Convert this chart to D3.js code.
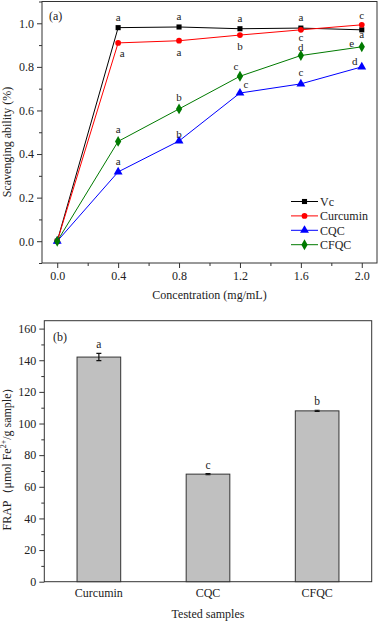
<!DOCTYPE html>
<html><head><meta charset="utf-8">
<script src="https://cdn.jsdelivr.net/npm/d3@7"></script>
<style>
body{margin:0;background:#fff;}
svg{display:block;font-family:"Liberation Serif","Times New Roman",serif;}
</style></head>
<body><svg id="c" width="379" height="621"></svg>
<script>
// ---------- Data: panel (a) ----------
const concentrations = [0, 0.4, 0.8, 1.2, 1.6, 2.0];
const seriesNames = ["Vc", "Curcumin", "CQC", "CFQC"];
const vcValues = [0, 0.980, 0.983, 0.975, 0.978, 0.970];
const curcuminValues = [0, 0.910, 0.920, 0.946, 0.970, 0.993];
const cqcValues = [0, 0.318, 0.460, 0.680, 0.722, 0.800];
const cfqcValues = [0, 0.458, 0.607, 0.757, 0.852, 0.892];
const vcLetters = ["", "a", "a", "a", "a", "a"];
const curcuminLetters = ["", "a", "a", "b", "c", "c"];
const cqcLetters = ["", "a", "b", "c", "c", "d"];
const cfqcLetters = ["", "a", "b", "c", "d", "e"];
const xTicksA = [0, 0.4, 0.8, 1.2, 1.6, 2.0];
const yTicksA = [0, 0.2, 0.4, 0.6, 0.8, 1.0];

// ---------- Data: panel (b) ----------
const samples = ["Curcumin", "CQC", "CFQC"];
const frapValues = [142, 68, 108];
const frapErrors = [2.3, 0.4, 0.4];
const frapLetters = ["a", "c", "b"];
const yTicksB = [0, 20, 40, 60, 80, 100, 120, 140, 160];

// ---------- Layout / style (not data) ----------
const colors = ["#000000", "#ff0000", "#0000ff", "#007a00"];
const symbols = [d3.symbolSquare, d3.symbolCircle, d3.symbolTriangle, d3.symbolDiamond];
const symSizes = [26, 26, 34, 34];
// letter offsets [dx, dy] per series per point
const letterOffsets = [
  [[0,0],[0,-11],[0,-11],[0,-11],[0,-11],[0,4]],
  [[0,0],[4,10],[0,11],[0,11],[0,7],[0,-10]],
  [[0,0],[0,-11],[0,-7],[6,-9],[0,-12],[-7,-6]],
  [[0,0],[0,-12],[0,-12],[-4,-10],[0,-8],[-10,-4]]
];

const svg = d3.select("#c");
const font = 12;

// ================= Panel (a) =================
const xA = d3.scaleLinear().domain([-0.1, 2.1]).range([42, 377]);
const yA = d3.scaleLinear().domain([-0.1, 1.1]).range([263, 1.5]);
const gA = svg.append("g");

gA.append("rect").attr("x", xA.range()[0]).attr("y", yA.range()[1])
  .attr("width", xA.range()[1]-xA.range()[0]).attr("height", yA.range()[0]-yA.range()[1])
  .attr("fill","none").attr("stroke","#333").attr("stroke-width",1);

const xAxisA = gA.append("g").attr("transform",`translate(0,${yA.range()[0]})`)
  .call(d3.axisBottom(xA).tickValues(xTicksA).tickFormat(d3.format(".1f")).tickSize(5).tickPadding(3));
const xMinorA = gA.append("g").attr("transform",`translate(0,${yA.range()[0]})`)
  .call(d3.axisBottom(xA).tickValues(d3.range(0.2, 2.0, 0.4)).tickFormat("").tickSize(3));
const yAxisA = gA.append("g").attr("transform",`translate(${xA.range()[0]},0)`)
  .call(d3.axisLeft(yA).tickValues(yTicksA).tickFormat(d3.format(".1f")).tickSize(5).tickPadding(3));
const yMinorA = gA.append("g").attr("transform",`translate(${xA.range()[0]},0)`)
  .call(d3.axisLeft(yA).tickValues([-0.1,0.1,0.3,0.5,0.7,0.9,1.1]).tickFormat("").tickSize(3));
[xAxisA,xMinorA,yAxisA,yMinorA].forEach(a=>{
  a.select(".domain").remove();
  a.selectAll("line").attr("stroke","#333");
  a.selectAll("text").attr("font-size",font).attr("fill","#222").attr("font-family","Liberation Serif, serif");
});

gA.append("text").attr("x", (xA.range()[0]+xA.range()[1])/2).attr("y", 299)
  .attr("text-anchor","middle").attr("font-size",font).attr("fill","#222").text("Concentration (mg/mL)");
gA.append("text").attr("transform","translate(11,142) rotate(-90)")
  .attr("text-anchor","middle").attr("font-size",font).attr("fill","#222").text("Scavenging ability (%)");
gA.append("text").attr("x",49).attr("y",20).attr("font-size",font).attr("fill","#222").text("(a)");

const allValues = [vcValues, curcuminValues, cqcValues, cfqcValues];
const allLetters = [vcLetters, curcuminLetters, cqcLetters, cfqcLetters];
const line = d3.line().x((d,i)=>xA(concentrations[i])).y(d=>yA(d));

allValues.forEach((vals, s) => {
  gA.append("path").datum(vals).attr("d", line).attr("fill","none")
    .attr("stroke", colors[s]).attr("stroke-width",1);
});
allValues.forEach((vals, s) => {
  gA.selectAll(null).data(vals).join("path")
    .attr("transform",(d,i)=>`translate(${xA(concentrations[i])},${yA(d)})`)
    .attr("d", d3.symbol().type(symbols[s]).size(symSizes[s]))
    .attr("fill", colors[s]);
});
allValues.forEach((vals, s) => {
  gA.selectAll(null).data(vals).join("text")
    .attr("x",(d,i)=>xA(concentrations[i]) + letterOffsets[s][i][0])
    .attr("y",(d,i)=>yA(d) + letterOffsets[s][i][1])
    .attr("dy","0.35em").attr("text-anchor","middle").attr("font-size",11).attr("fill","#222")
    .text((d,i)=>allLetters[s][i]);
});

// legend
const lg = gA.append("g").attr("transform","translate(291,201.5)");
seriesNames.forEach((name, s) => {
  const row = lg.append("g").attr("transform",`translate(0,${s*14.4})`);
  row.append("line").attr("x1",0).attr("x2",27).attr("stroke",colors[s]).attr("stroke-width",1);
  row.append("path").attr("transform","translate(13.5,0)")
    .attr("d", d3.symbol().type(symbols[s]).size(symSizes[s])).attr("fill",colors[s]);
  row.append("text").attr("x",29).attr("dy","0.35em").attr("font-size",font).attr("fill","#222").text(name);
});

// ================= Panel (b) =================
const xB = d3.scaleBand().domain(samples).range([44.3, 371.7]).paddingInner(0.6).paddingOuter(0.3);
const yB = d3.scaleLinear().domain([0, 165]).range([581.7, 320.7]);
const gB = svg.append("g");

gB.append("rect").attr("x", xB.range()[0]).attr("y", yB.range()[1])
  .attr("width", xB.range()[1]-xB.range()[0]).attr("height", yB.range()[0]-yB.range()[1])
  .attr("fill","none").attr("stroke","#333").attr("stroke-width",1);

gB.selectAll(null).data(frapValues).join("rect")
  .attr("x",(d,i)=>xB(samples[i])).attr("y",d=>yB(d))
  .attr("width",xB.bandwidth()).attr("height",d=>yB(0)-yB(d))
  .attr("fill","#c0c0c0").attr("stroke","#333").attr("stroke-width",1);

gB.selectAll(null).data(frapValues).join("path")
  .attr("d",(d,i)=>{
    const cx = xB(samples[i]) + xB.bandwidth()/2;
    const t = yB(d + frapErrors[i]), b = yB(d - frapErrors[i]);
    return `M${cx-2.5},${t}H${cx+2.5}M${cx},${t}V${b}M${cx-2.5},${b}H${cx+2.5}`;
  }).attr("stroke","#111").attr("stroke-width",1.2).attr("fill","none");

gB.selectAll(null).data(frapValues).join("text")
  .attr("x",(d,i)=>xB(samples[i]) + xB.bandwidth()/2)
  .attr("y",(d,i)=>yB(d + frapErrors[i]) - 5)
  .attr("text-anchor","middle").attr("font-size",11.5).attr("fill","#222")
  .text((d,i)=>frapLetters[i]);

const xAxisB = gB.append("g").attr("transform",`translate(0,${yB.range()[0]})`)
  .call(d3.axisBottom(xB).tickSize(0).tickPadding(7));
const yAxisB = gB.append("g").attr("transform",`translate(${xB.range()[0]},0)`)
  .call(d3.axisLeft(yB).tickValues(yTicksB).tickSize(5).tickPadding(3));
const yMinorB = gB.append("g").attr("transform",`translate(${xB.range()[0]},0)`)
  .call(d3.axisLeft(yB).tickValues(d3.range(10, 165, 20)).tickFormat("").tickSize(3));
[xAxisB,yAxisB,yMinorB].forEach(a=>{
  a.select(".domain").remove();
  a.selectAll("line").attr("stroke","#333");
  a.selectAll("text").attr("font-size",font).attr("fill","#222").attr("font-family","Liberation Serif, serif");
});

gB.append("text").attr("x",(xB.range()[0]+xB.range()[1])/2).attr("y",618)
  .attr("text-anchor","middle").attr("font-size",font).attr("fill","#222").text("Tested samples");
const yl = gB.append("text").attr("transform","translate(11,456) rotate(-90)")
  .attr("text-anchor","middle").attr("font-size",font).attr("fill","#222");
yl.append("tspan").text("FRAP（μmol Fe");
yl.append("tspan").attr("font-size",8).attr("dy",-5).text("2+");
yl.append("tspan").attr("dy",5).text("/g sample）");
gB.append("text").attr("x",53).attr("y",341).attr("font-size",font).attr("fill","#222").text("(b)");
</script></body></html>
